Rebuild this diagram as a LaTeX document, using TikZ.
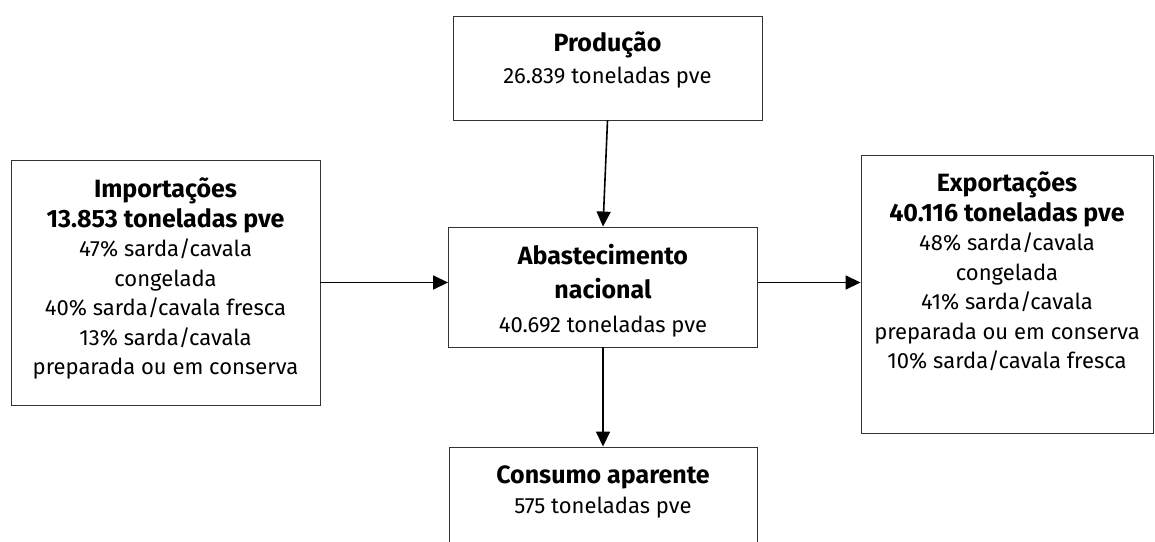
\documentclass[tikz,border=0pt]{standalone}
\usepackage{fontspec}
\setmainfont{Fira Sans}
\usetikzlibrary{arrows.meta}
\newcommand{\hd}[1]{{\fontsize{25}{29.5}\selectfont\bfseries #1}}
\begin{document}
\begin{tikzpicture}[x=1pt,y=-1pt,
  box/.style={draw=black!80, line width=0.9pt, rectangle, inner sep=0pt},
  txt/.style={anchor=north, align=center, inner sep=0pt, font=\fontsize{22}{29.5}\selectfont},
  arr/.style={-{Triangle[length=15pt,width=14pt]}, line width=1.6pt, black}]
\useasboundingbox (0,0) rectangle (1155,541);
\clip (0,0) rectangle (1155,541);
% boxes
\node[box, minimum width=309pt, minimum height=104pt] (prod) at (607.5,68) {};
\node[box, minimum width=309pt, minimum height=245pt] (imp) at (165.5,282.5) {};
\node[box, minimum width=309pt, minimum height=120pt] (abast) at (603,287) {};
\node[box, minimum width=292pt, minimum height=278pt] (exp) at (1007,294) {};
\node[box, minimum width=308pt, minimum height=120pt] (cons) at (603,507) {};
% texts
\node[txt] (prodt) at ([yshift=-16pt]prod.north) {\hd{Produção}\\[2pt]26.839 toneladas pve};
\node[txt] (impt) at ([yshift=-18pt]imp.north) {\hd{Importações}\\\hd{13.853 toneladas pve}\\47\% sarda/cavala\\congelada\\40\% sarda/cavala fresca\\13\% sarda/cavala\\preparada ou em conserva};
\node[txt] (abastt) at ([yshift=-17pt]abast.north) {\hd{Abastecimento}\\[4.5pt]\hd{nacional}\\[4.5pt]40.692 toneladas pve};
\node[txt] (expt) at ([yshift=-17pt]exp.north) {\hd{Exportações}\\\hd{40.116 toneladas pve}\\48\% sarda/cavala\\congelada\\41\% sarda/cavala\\preparada ou em conserva\\10\% sarda/cavala fresca};
\node[txt] (const) at ([yshift=-19pt]cons.north) {\hd{Consumo aparente}\\575 toneladas pve};
% arrows
\draw[arr] (prod.south) -- (abast.north);
\draw[arr] (imp.east) -- (imp.east -| abast.west);
\draw[arr] (abast.east |- imp.east) -- (imp.east -| exp.west);
\draw[arr] (abast.south) -- (cons.north);
\end{tikzpicture}
\end{document}
